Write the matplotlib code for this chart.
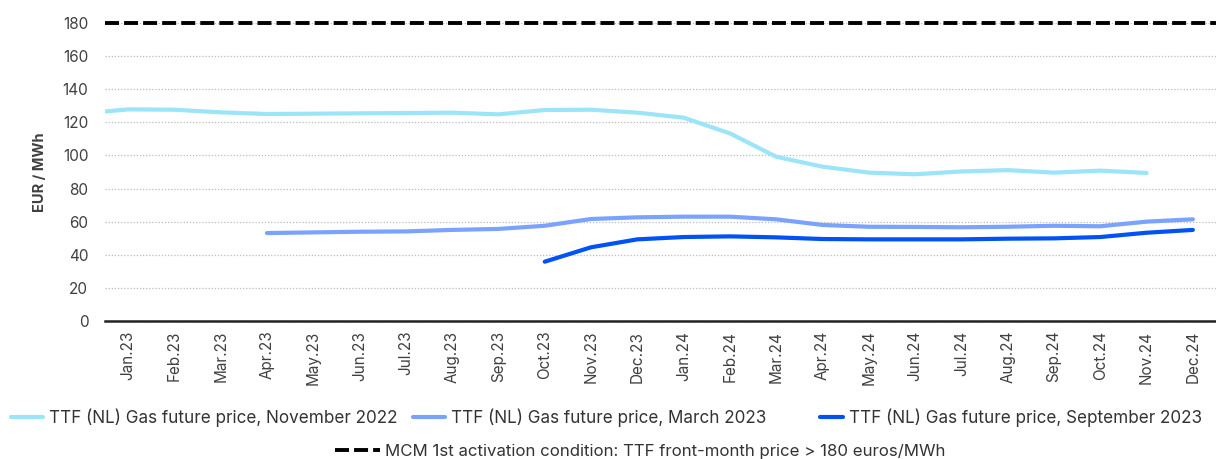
import numpy as np
import matplotlib.pyplot as plt

# Datos
meses = ['Jan.23', 'Feb.23', 'Mar.23', 'Apr.23', 'May.23', 'Jun.23', 'Jul.23', 'Aug.23',
         'Sep.23', 'Oct.23', 'Nov.23', 'Dec.23', 'Jan.24', 'Feb.24', 'Mar.24', 'Apr.24',
         'May.24', 'Jun.24', 'Jul.24', 'Aug.24', 'Sep.24', 'Oct.24', 'Nov.24', 'Dec.24']

# Nov 2022 empieza en Dec.22 (fuera del eje, queda cortado)
nov22 = [125.2, 127.8, 127.6, 126.0, 125.0, 125.2, 125.4, 125.6, 125.8, 124.8, 127.4, 127.6,
         125.8, 122.8, 113.3, 99.2, 93.2, 89.6, 88.6, 90.3, 91.1, 89.6, 90.8, 89.4]
mar23 = [53.1, 53.5, 53.9, 54.1, 55.0, 55.6, 57.5, 61.6, 62.6, 63.0, 63.0, 61.4,
         58.0, 56.9, 56.8, 56.6, 56.9, 57.5, 57.2, 60.0, 61.4]
sep23 = [35.8, 44.5, 49.3, 50.7, 51.1, 50.5, 49.5, 49.3, 49.3, 49.3, 49.7, 49.9,
         50.7, 53.3, 55.0]
umbral = 180

nombres = ['TTF (NL) Gas future price, November 2022',
           'TTF (NL) Gas future price, March 2023',
           'TTF (NL) Gas future price, September 2023']
nombre_umbral = 'MCM 1st activation condition: TTF front-month price > 180 euros/MWh'

colores = ['#9BE4FA', '#79A3FF', '#0052F5']

plt.rcParams['font.family'] = ['Inter', 'DejaVu Sans']

fig = plt.figure(figsize=(12.16, 4.59), dpi=100)
ax = fig.add_axes([0.0863, 0.3007, 0.9137, 0.6493])

x = np.arange(len(meses))
x1 = np.arange(-1, len(nov22) - 1)
x2 = np.arange(len(meses) - len(mar23), len(meses))
x3 = np.arange(len(meses) - len(sep23), len(meses))

l1, = ax.plot(x1, nov22, color=colores[0], lw=3.0, solid_capstyle='round')
l2, = ax.plot(x2, mar23, color=colores[1], lw=3.0, solid_capstyle='round')
l3, = ax.plot(x3, sep23, color=colores[2], lw=3.0, solid_capstyle='round')
l4 = ax.axhline(umbral, color='black', lw=2.8, dashes=(3.6, 1.3), clip_on=False)

ax.set_xlim(-0.5, len(meses) - 0.5)
ax.set_ylim(0, 180)
ax.set_yticks(np.arange(0, 181, 20))
ax.set_xticks(x)
ax.set_xticklabels(meses, rotation=90)
ax.tick_params(axis='both', length=0, labelsize=11, labelcolor='#404040')
ax.tick_params(axis='y', pad=12)
ax.tick_params(axis='x', pad=7)
ax.yaxis.grid(True, linestyle=(0, (1, 1.5)), color='#BBBBBB', lw=0.9)
ax.set_axisbelow(True)
for lado in ['top', 'right', 'left']:
    ax.spines[lado].set_visible(False)
ax.spines['bottom'].set_linewidth(1.8)
ax.spines['bottom'].set_color('#222222')
ax.set_ylabel('EUR / MWh', fontsize=10.5, fontweight='bold', color='#404040', labelpad=11)

# leyenda: cada entrada por separado para imitar el espaciado de Excel
pos_x = [11 / 1216, 413 / 1216, 820 / 1216]
largo = [1.9, 1.9, 1.35]
for h, nom, px, lg in zip([l1, l2, l3], nombres, pos_x, largo):
    fig.legend([h], [nom], loc='center left', bbox_to_anchor=(px, 0.09),
               frameon=False, fontsize=12.3, handlelength=lg, handletextpad=0.35,
               borderpad=0, borderaxespad=0, labelcolor='#333333')
fig.legend([l4], [nombre_umbral], loc='center left', bbox_to_anchor=(335 / 1216, 0.017),
           frameon=False, fontsize=12.1, handlelength=2.7, handletextpad=0.3,
           borderpad=0, borderaxespad=0, labelcolor='#333333')

fig.savefig('out.png', dpi=100)
